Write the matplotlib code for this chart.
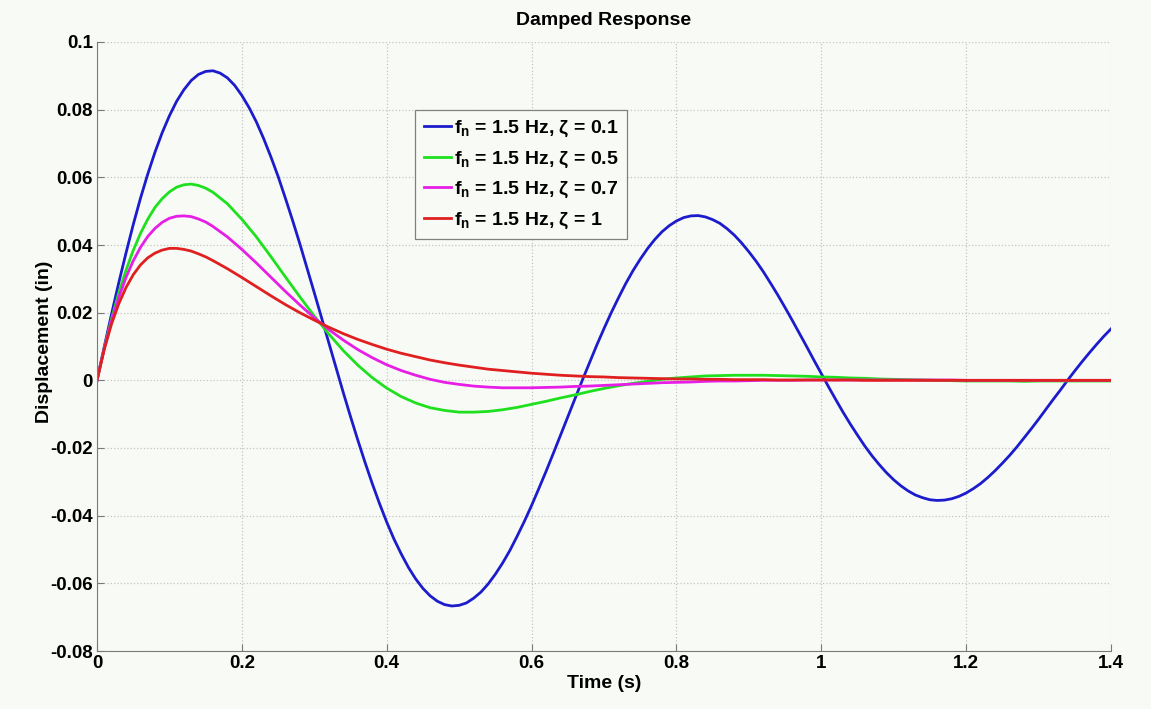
import numpy as np
import matplotlib.pyplot as plt

# values
# zeta = 0.1 sampled every 0.01 s, the others every 0.01 s up to 0.16 s then every 0.02 s
t_fine = np.round(np.arange(141) * 0.01, 2)
t_damped = np.round(np.concatenate([np.arange(17) * 0.01, 0.18 + np.arange(62) * 0.02]), 2)

zeta01 = [0.0, 0.0099, 0.0195, 0.0288, 0.0376, 0.0460, 0.0538, 0.0609, 0.0674, 0.0732,
          0.0782, 0.0825, 0.0859, 0.0886, 0.0904, 0.0913, 0.0915, 0.0908, 0.0894, 0.0872,
          0.0842, 0.0806, 0.0764, 0.0715, 0.0661, 0.0603, 0.0539, 0.0473, 0.0404, 0.0332,
          0.0259, 0.0185, 0.0111, 0.0037, -0.0036, -0.0107, -0.0176, -0.0242, -0.0305, -0.0364,
          -0.0419, -0.0469, -0.0513, -0.0553, -0.0587, -0.0615, -0.0637, -0.0653, -0.0663, -0.0667,
          -0.0665, -0.0658, -0.0644, -0.0626, -0.0602, -0.0573, -0.0540, -0.0503, -0.0461, -0.0417,
          -0.0370, -0.0320, -0.0269, -0.0216, -0.0162, -0.0108, -0.0054, 0.0000, 0.0052, 0.0104,
          0.0153, 0.0200, 0.0244, 0.0286, 0.0324, 0.0358, 0.0389, 0.0416, 0.0439, 0.0457,
          0.0471, 0.0481, 0.0486, 0.0487, 0.0483, 0.0475, 0.0464, 0.0448, 0.0429, 0.0406,
          0.0380, 0.0352, 0.0321, 0.0287, 0.0252, 0.0215, 0.0177, 0.0138, 0.0099, 0.0059,
          0.0020, -0.0019, -0.0057, -0.0094, -0.0129, -0.0162, -0.0194, -0.0223, -0.0249, -0.0273,
          -0.0294, -0.0312, -0.0327, -0.0339, -0.0347, -0.0353, -0.0355, -0.0354, -0.0350, -0.0343,
          -0.0333, -0.0320, -0.0305, -0.0287, -0.0267, -0.0245, -0.0222, -0.0197, -0.0170, -0.0143,
          -0.0115, -0.0086, -0.0057, -0.0029, 0.0000, 0.0028, 0.0055, 0.0081, 0.0106, 0.0130,
          0.0152]

zeta05 = [0.0, 0.0095, 0.0181, 0.0258, 0.0325, 0.0384, 0.0434, 0.0476, 0.0511, 0.0537,
          0.0557, 0.0571, 0.0578, 0.0580, 0.0576, 0.0568, 0.0556,
          0.0522, 0.0476, 0.0424, 0.0366, 0.0306, 0.0247, 0.0190, 0.0137, 0.0088, 0.0045, 0.0008,
          -0.0023, -0.0048, -0.0067, -0.0081, -0.0089, -0.0094, -0.0094, -0.0092, -0.0087, -0.0080,
          -0.0071, -0.0062, -0.0052, -0.0043, -0.0033, -0.0024, -0.0016, -0.0009, -0.0003, 0.0003,
          0.0007, 0.0010, 0.0013, 0.0014, 0.0015, 0.0015, 0.0015, 0.0014, 0.0013, 0.0012,
          0.0010, 0.0009, 0.0007, 0.0006, 0.0004, 0.0003, 0.0002, 0.0001, 0.0000, -0.0001,
          -0.0002, -0.0002, -0.0002, -0.0002, -0.0003, -0.0002, -0.0002, -0.0002, -0.0002, -0.0002, -0.0002]

zeta07 = [0.0, 0.0094, 0.0175, 0.0244, 0.0304, 0.0353, 0.0393, 0.0425, 0.0449, 0.0467,
          0.0479, 0.0485, 0.0486, 0.0484, 0.0477, 0.0468, 0.0455,
          0.0424, 0.0387, 0.0347, 0.0305, 0.0263, 0.0223, 0.0185, 0.0150, 0.0119, 0.0091, 0.0067,
          0.0046, 0.0029, 0.0015, 0.0003, -0.0006, -0.0012, -0.0017, -0.0020, -0.0022, -0.0022,
          -0.0022, -0.0021, -0.0020, -0.0018, -0.0017, -0.0015, -0.0013, -0.0011, -0.0009, -0.0007,
          -0.0006, -0.0005, -0.0003, -0.0002, -0.0002, -0.0001, 0.0, 0.0, 0.0, 0.0001,
          0.0001, 0.0001, 0.0001, 0.0001, 0.0001, 0.0001, 0.0001, 0.0001, 0.0001, 0.0001,
          0.0, 0.0, 0.0, 0.0, 0.0, 0.0, 0.0, 0.0, 0.0, 0.0, 0.0]

zeta1 = [0.0, 0.0091, 0.0166, 0.0226, 0.0274, 0.0312, 0.0341, 0.0362, 0.0376, 0.0385,
         0.0390, 0.0390, 0.0387, 0.0382, 0.0374, 0.0365, 0.0354,
         0.0330, 0.0304, 0.0277, 0.0250, 0.0224, 0.0200, 0.0178, 0.0157, 0.0138, 0.0121, 0.0106,
         0.0092, 0.0080, 0.0070, 0.0060, 0.0052, 0.0045, 0.0039, 0.0033, 0.0029, 0.0025,
         0.0021, 0.0018, 0.0015, 0.0013, 0.0011, 0.0010, 0.0008, 0.0007, 0.0006, 0.0005,
         0.0004, 0.0004, 0.0003, 0.0003, 0.0002, 0.0002, 0.0002, 0.0001, 0.0001, 0.0001,
         0.0001, 0.0001, 0.0001, 0.0, 0.0, 0.0, 0.0, 0.0, 0.0, 0.0,
         0.0, 0.0, 0.0, 0.0, 0.0, 0.0, 0.0, 0.0, 0.0, 0.0, 0.0]

labels = [r'f$_\mathrm{n}$ = 1.5 Hz, ζ = 0.1',
          r'f$_\mathrm{n}$ = 1.5 Hz, ζ = 0.5',
          r'f$_\mathrm{n}$ = 1.5 Hz, ζ = 0.7',
          r'f$_\mathrm{n}$ = 1.5 Hz, ζ = 1']
colors = ['#1c1ccc', '#1fe01f', '#e61ee6', '#e02020']

xticks = [0, 0.2, 0.4, 0.6, 0.8, 1.0, 1.2, 1.4]
xticklabels = ['0', '0.2', '0.4', '0.6', '0.8', '1', '1.2', '1.4']
yticks = [-0.08, -0.06, -0.04, -0.02, 0, 0.02, 0.04, 0.06, 0.08, 0.1]
yticklabels = ['-0.08', '-0.06', '-0.04', '-0.02', '0', '0.02', '0.04', '0.06', '0.08', '0.1']

plt.rcParams['mathtext.fontset'] = 'custom'
plt.rcParams['mathtext.rm'] = 'Liberation Sans:bold'
plt.rcParams['mathtext.it'] = 'Liberation Sans:bold'
plt.rcParams['mathtext.bf'] = 'Liberation Sans:bold'

bg = '#f8fbf5'
axcol = '#7a7a7a'
main_font = ['Liberation Sans', 'DejaVu Sans']

fig = plt.figure(figsize=(11.51, 7.09), dpi=100, facecolor=bg)
ax = fig.add_axes([97/1151, 1 - 651/709, 1014/1151, 609/709], facecolor=bg)

series = [(t_fine, zeta01), (t_damped, zeta05), (t_damped, zeta07), (t_damped, zeta1)]
for (x, y), c, lab in zip(series, colors, labels):
    ax.plot(x, y, color=c, linewidth=2.0, label=lab, solid_joinstyle='round')

ax.set_xlim(0, 1.4)
ax.set_ylim(-0.08, 0.1)
ax.set_xticks(xticks)
ax.set_xticklabels(xticklabels, family=main_font, fontweight='bold', fontsize=13.5)
ax.set_yticks(yticks)
ax.set_yticklabels(yticklabels, family=main_font, fontweight='bold', fontsize=13.5)
ax.tick_params(direction='in', length=5, width=0.8, color=axcol, pad=3)

ax.grid(True, color='#c4c4c4', linestyle=':', linewidth=0.9)
ax.spines['top'].set_visible(False)
ax.spines['right'].set_visible(False)
ax.spines['left'].set_color(axcol)
ax.spines['bottom'].set_color(axcol)

ax.set_title('Damped Response', family=main_font, fontweight='bold', fontsize=14, pad=12)
ax.set_xlabel('Time (s)', family=main_font, fontweight='bold', fontsize=14, labelpad=2)
ax.set_ylabel('Displacement (in)', family=main_font, fontweight='bold', fontsize=14)
ax.yaxis.set_label_coords(-0.0434, 0.508)

leg = ax.legend(loc='upper left', bbox_to_anchor=(0.3136, 0.888), borderaxespad=0,
                prop={'family': main_font, 'weight': 'bold', 'size': 14},
                handlelength=1.4, handletextpad=0.15, labelspacing=0.52, borderpad=0.45,
                fancybox=False, framealpha=1, facecolor=bg, edgecolor='#808080')
leg.get_frame().set_linewidth(0.9)

plt.savefig('out.png', dpi=100, facecolor=bg)
